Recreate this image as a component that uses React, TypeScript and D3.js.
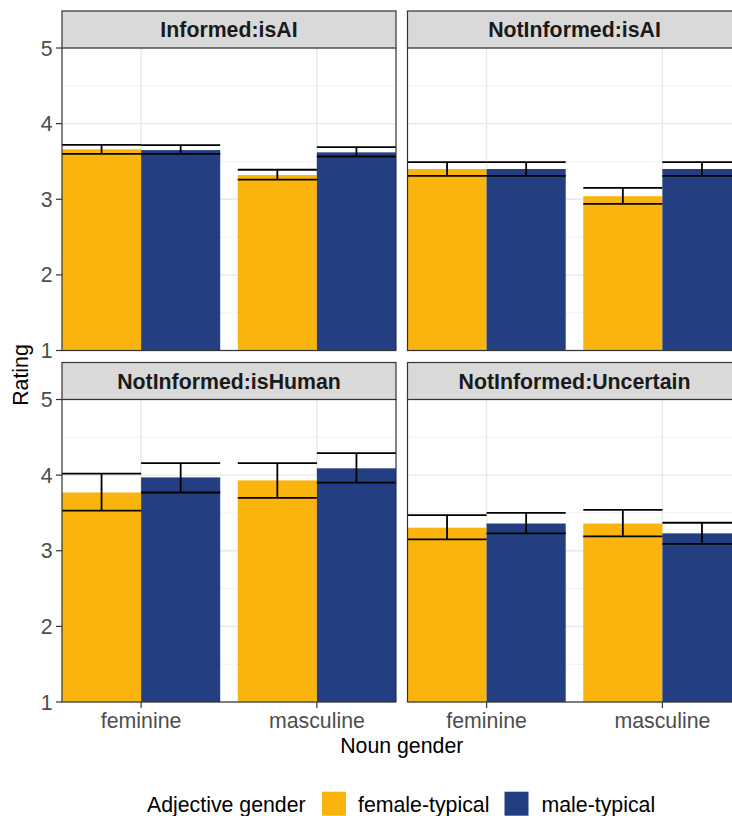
import React from 'react';
import * as d3 from 'd3';

// facet panels, in reading order
const panels = ['Informed:isAI', 'NotInformed:isAI', 'NotInformed:isHuman', 'NotInformed:Uncertain'];
const nounGenders = ['feminine', 'masculine'];
const adjGenders = ['female-typical', 'male-typical'];
const adjColors = ['#FBB30D', '#233F82'];
const yTicks = [1, 2, 3, 4, 5];
const yMinor = [1.5, 2.5, 3.5, 4.5];

// per panel: [feminine/female, feminine/male, masculine/female, masculine/male]
const means = [
  [3.66, 3.65, 3.32, 3.62],
  [3.40, 3.40, 3.04, 3.40],
  [3.77, 3.97, 3.93, 4.09],
  [3.305, 3.36, 3.36, 3.23],
];
const lowers = [
  [3.60, 3.60, 3.26, 3.565],
  [3.31, 3.31, 2.94, 3.31],
  [3.53, 3.77, 3.70, 3.90],
  [3.15, 3.23, 3.19, 3.09],
];
const uppers = [
  [3.72, 3.715, 3.39, 3.69],
  [3.49, 3.49, 3.15, 3.49],
  [4.02, 4.16, 4.16, 4.29],
  [3.47, 3.50, 3.54, 3.37],
];

const W = 732;
const H = 816;
const FONT = '"Liberation Sans", Arial, Helvetica, sans-serif';
const FS = 21.3;

const panelW = 334;
const plotH = 302.5;
const stripH = 37;
const colX = [62, 407.5];
const rowY = [11, 362.5];

function Panel({ idx }: { idx: number }) {
  const col = idx % 2;
  const row = Math.floor(idx / 2);
  const x0 = colX[col];
  const y0 = rowY[row] + stripH;

  const x = d3.scaleBand<string>().domain(nounGenders).range([0, panelW]).paddingInner(0.1).paddingOuter(0);
  const xi = d3.scaleBand<string>().domain(adjGenders).range([0, x.bandwidth()]).padding(0);
  const y = d3.scaleLinear().domain([1, 5]).range([plotH, 0]);

  const bars: { nx: number; ax: number; m: number; lo: number; hi: number }[] = [];
  nounGenders.forEach((n, ni) => {
    adjGenders.forEach((a, ai) => {
      const k = ni * 2 + ai;
      bars.push({ nx: ni, ax: ai, m: means[idx][k], lo: lowers[idx][k], hi: uppers[idx][k] });
    });
  });

  return (
    <g>
      {/* strip */}
      <rect x={x0} y={rowY[row]} width={panelW} height={stripH} fill="#D9D9D9" stroke="#333333" strokeWidth={1.2} />
      <text x={x0 + panelW / 2} y={rowY[row] + stripH / 2 + 7.6} textAnchor="middle" fontFamily={FONT}
        fontSize={FS} fontWeight="bold" fill="#1A1A1A">{panels[idx]}</text>
      <g transform={`translate(${x0},${y0})`}>
        <rect x={0} y={0} width={panelW} height={plotH} fill="#FFFFFF" />
        {yMinor.map((t) => (
          <line key={'mi' + t} x1={0} x2={panelW} y1={y(t)} y2={y(t)} stroke="#EBEBEB" strokeWidth={0.7} />
        ))}
        {yTicks.map((t) => (
          <line key={'ma' + t} x1={0} x2={panelW} y1={y(t)} y2={y(t)} stroke="#E8E8E8" strokeWidth={1.4} />
        ))}
        {nounGenders.map((n) => (
          <line key={'v' + n} x1={x(n)! + x.bandwidth() / 2} x2={x(n)! + x.bandwidth() / 2} y1={0} y2={plotH}
            stroke="#E8E8E8" strokeWidth={1.4} />
        ))}
        {bars.map((b, i) => {
          const bx = x(nounGenders[b.nx])! + xi(adjGenders[b.ax])!;
          return (
            <rect key={'b' + i} x={bx} y={y(b.m)} width={xi.bandwidth()} height={y(1) - y(b.m)} fill={adjColors[b.ax]} />
          );
        })}
        {bars.map((b, i) => {
          const bx = x(nounGenders[b.nx])! + xi(adjGenders[b.ax])!;
          const cx = bx + xi.bandwidth() / 2;
          return (
            <g key={'e' + i} stroke="#000000" strokeWidth={1.8}>
              <line x1={bx} x2={bx + xi.bandwidth()} y1={y(b.hi)} y2={y(b.hi)} />
              <line x1={bx} x2={bx + xi.bandwidth()} y1={y(b.lo)} y2={y(b.lo)} />
              <line x1={cx} x2={cx} y1={y(b.hi)} y2={y(b.lo)} />
            </g>
          );
        })}
        <rect x={0} y={0} width={panelW} height={plotH} fill="none" stroke="#333333" strokeWidth={1.2} />
        {col === 0 &&
          yTicks.map((t) => (
            <g key={'yt' + t}>
              <line x1={-6} x2={0} y1={y(t)} y2={y(t)} stroke="#333333" strokeWidth={1.2} />
              <text x={-9.5} y={y(t) + 7.6} textAnchor="end" fontFamily={FONT} fontSize={FS} fill="#4D4D4D">{t}</text>
            </g>
          ))}
        {row === 1 &&
          nounGenders.map((n) => (
            <g key={'xt' + n}>
              <line x1={x(n)! + x.bandwidth() / 2} x2={x(n)! + x.bandwidth() / 2} y1={plotH} y2={plotH + 6}
                stroke="#333333" strokeWidth={1.2} />
              <text x={x(n)! + x.bandwidth() / 2} y={plotH + 26.3} textAnchor="middle" fontFamily={FONT}
                fontSize={FS} fill="#4D4D4D">{n}</text>
            </g>
          ))}
      </g>
    </g>
  );
}

export default function App() {
  const plotCenterX = (colX[0] + colX[1] + panelW) / 2;
  const plotCenterY = (rowY[0] + stripH + rowY[1] + stripH + plotH) / 2;
  return (
    <svg width={W} height={H} style={{ position: 'absolute', left: 0, top: 0, background: '#FFFFFF' }}>
      <rect x={0} y={0} width={W} height={H} fill="#FFFFFF" />
      {panels.map((p, i) => (
        <Panel key={p} idx={i} />
      ))}
      <text transform={`translate(27.5,${plotCenterY}) rotate(-90)`} textAnchor="middle" fontFamily={FONT}
        fontSize={FS} fill="#000000">Rating</text>
      <text x={plotCenterX} y={753} textAnchor="middle" fontFamily={FONT} fontSize={FS} fill="#000000">Noun gender</text>
      {/* legend */}
      <text x={147} y={811.5} fontFamily={FONT} fontSize={FS} fill="#000000">Adjective gender</text>
      <rect x={322} y={791.7} width={24} height={24} fill={adjColors[0]} />
      <text x={358} y={811.5} fontFamily={FONT} fontSize={FS} fill="#000000">{adjGenders[0]}</text>
      <rect x={504.5} y={791.7} width={24} height={24} fill={adjColors[1]} />
      <text x={541.5} y={811.5} fontFamily={FONT} fontSize={FS} fill="#000000">{adjGenders[1]}</text>
    </svg>
  );
}
